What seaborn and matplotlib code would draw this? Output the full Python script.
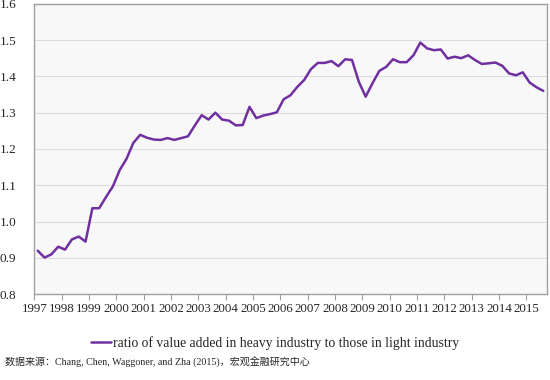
import numpy as np
import pandas as pd
import matplotlib
matplotlib.use("AGG")
import matplotlib.pyplot as plt
import seaborn as sns

# quarterly ratio, 1997Q1 - 2015Q3
ratio = [0.920, 0.901, 0.910, 0.931, 0.923, 0.951, 0.959, 0.945,
         1.037, 1.037, 1.068, 1.097, 1.142, 1.173, 1.217, 1.239,
         1.231, 1.226, 1.225, 1.230, 1.225, 1.230, 1.235, 1.265,
         1.293, 1.281, 1.300, 1.281, 1.278, 1.265, 1.266, 1.316,
         1.285, 1.292, 1.296, 1.301, 1.337, 1.348, 1.371, 1.390,
         1.420, 1.437, 1.437, 1.442, 1.428, 1.447, 1.445, 1.385,
         1.344, 1.381, 1.415, 1.426, 1.447, 1.439, 1.439, 1.458,
         1.493, 1.477, 1.472, 1.474, 1.449, 1.454, 1.450, 1.458,
         1.445, 1.434, 1.436, 1.438, 1.429, 1.408, 1.403, 1.411,
         1.383, 1.370, 1.360]
years = list(range(1997, 2016))
series_label = 'ratio of value added in heavy industry to those in light industry'
source_text = '数据来源：Chang, Chen, Waggoner, and Zha (2015)，宏观金融研究中心'

# each quarter sits in the middle of its slot
t = [1997 + 0.125 + i / 4 for i in range(len(ratio))]
df = pd.DataFrame({'t': t, 'ratio': ratio})

sns.set_theme(style='white')
plt.rcParams['font.family'] = ['Liberation Serif', 'Noto Sans CJK SC']

fig = plt.figure(figsize=(5.5, 3.8), dpi=100)
ax = fig.add_axes([34.3/550, 1-294.3/380, (546.7-34.3)/550, (294.3-3.7)/380])
ax.set_facecolor('#f8f8f8')

sns.lineplot(data=df, x='t', y='ratio', color='#7030a0', linewidth=1.8,
             label=series_label, ax=ax, legend=False)

ax.set_xlim(1997, 2015.75)
ax.set_ylim(0.8, 1.6)
ax.set_xticks(years)
ax.set_xticklabels([str(y) for y in years])
ax.set_yticks(np.arange(0.8, 1.61, 0.1))
ax.set_yticklabels(['%.1f' % v for v in np.arange(0.8, 1.61, 0.1)])
ax.yaxis.grid(True, color='#dcdcdc', linewidth=0.8)
ax.set_axisbelow(True)
ax.tick_params(axis='x', bottom=True, length=4, width=0.8, color='#a0a0a0',
               labelsize=9.3, pad=2)
ax.tick_params(axis='y', left=False, labelsize=9.5, pad=7)
for s in ax.spines.values():
    s.set_color('#a0a0a0')
    s.set_linewidth(1)
ax.set_xlabel('')
ax.set_ylabel('')

h, l = ax.get_legend_handles_labels()
fig.legend(h, l, loc='center', bbox_to_anchor=(0.5, 1-343/380), frameon=False,
           fontsize=9.8, handlelength=1.5, handletextpad=0.1)

fig.text(5/550, 1-362/380, source_text, fontsize=7.2, va='center', ha='left')

plt.savefig('out.png', format='png')
